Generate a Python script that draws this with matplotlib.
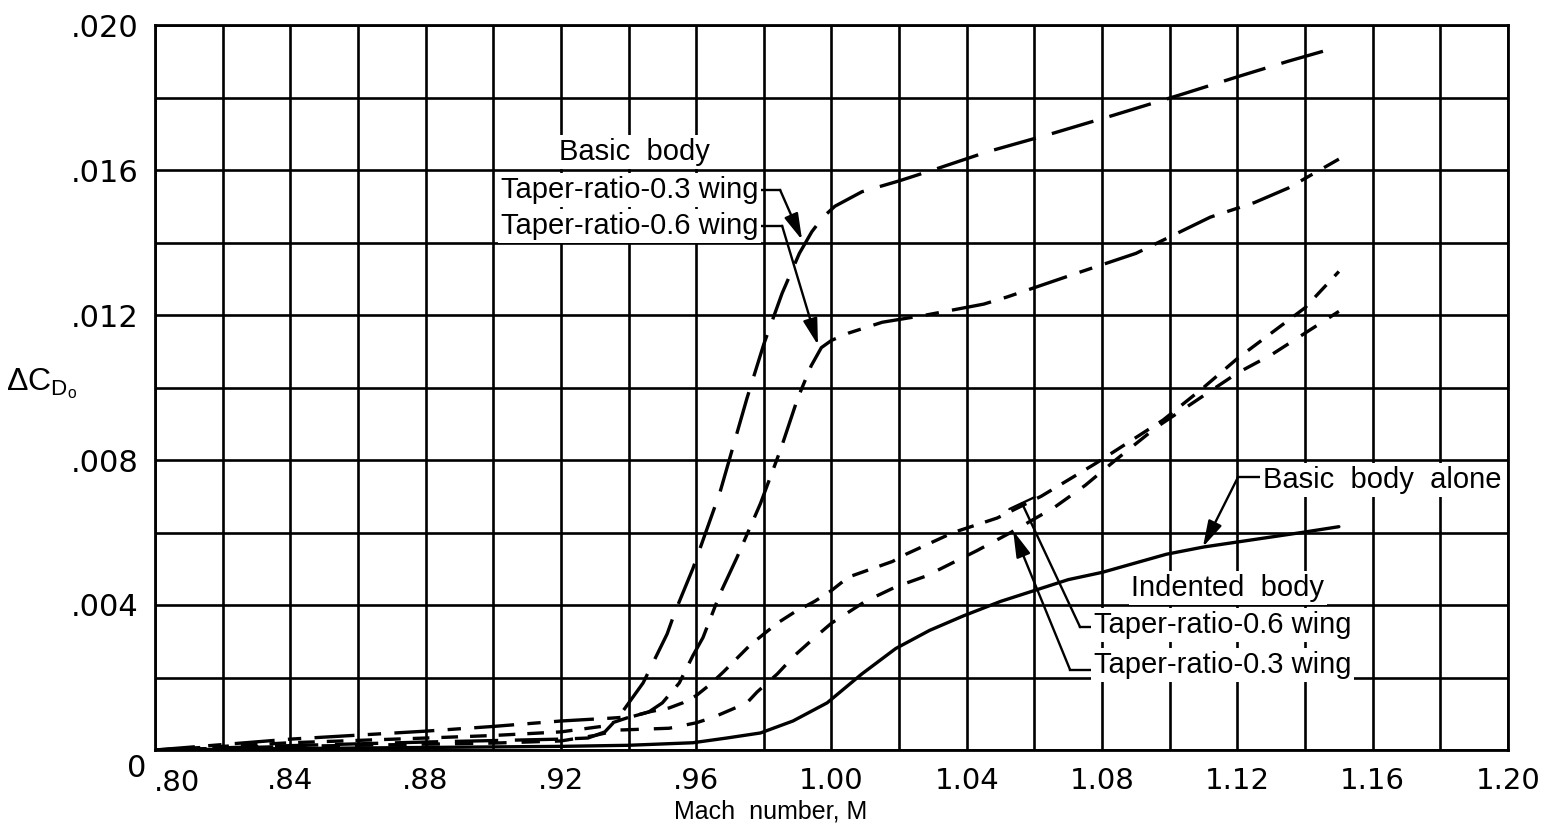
import matplotlib
matplotlib.use("Agg")
import matplotlib.pyplot as plt
import matplotlib.transforms as mtransforms
from matplotlib.patches import ArrowStyle

# ---------------- data ----------------
mach_basic_03 = [0.80, 0.84, 0.88, 0.92, 0.928, 0.933, 0.937, 0.9413, 0.9443, 0.9514, 0.9537,
                 0.959, 0.967, 0.975, 0.980, 0.9854, 0.9905, 0.9942, 0.9975, 1.001, 1.009,
                 1.02, 1.03, 1.046, 1.065, 1.083, 1.104, 1.121, 1.135, 1.15]
cd_basic_03 = [0.0, 0.00012, 0.00022, 0.0003, 0.00033, 0.0005, 0.0009, 0.00146, 0.00185, 0.0032,
               0.0038, 0.0050, 0.0071, 0.0097, 0.0112, 0.0126, 0.0137, 0.0143, 0.0147, 0.0150,
               0.0154, 0.0157, 0.0160, 0.0165, 0.0170, 0.0175, 0.0181, 0.0186, 0.0190, 0.0194]

mach_basic_06 = [0.80, 0.84, 0.88, 0.90, 0.92, 0.935, 0.941, 0.946, 0.950, 0.955, 0.959, 0.962,
                 0.967, 0.972, 0.979, 0.985, 0.990, 0.994, 0.997, 1.000, 1.005, 1.015, 1.028,
                 1.045, 1.052, 1.074, 1.090, 1.112, 1.125, 1.135, 1.15]
cd_basic_06 = [0.0, 0.0003, 0.00052, 0.00065, 0.0008, 0.00088, 0.00092, 0.00105, 0.0013, 0.00185,
               0.0026, 0.0031, 0.0043, 0.0053, 0.0068, 0.0083, 0.0097, 0.0106, 0.0111, 0.0113,
               0.0115, 0.0118, 0.0120, 0.0123, 0.0125, 0.0132, 0.0137, 0.0147, 0.0151, 0.0155,
               0.0163]

mach_indent_06 = [0.80, 0.84, 0.88, 0.90, 0.92, 0.932, 0.940, 0.946, 0.952, 0.956, 0.960, 0.964,
                  0.968, 0.976, 0.984, 0.989, 0.995, 1.000, 1.005, 1.018, 1.022, 1.036, 1.049,
                  1.062, 1.078, 1.098, 1.11, 1.12, 1.14, 1.148, 1.15]
cd_indent_06 = [0.0, 0.0002, 0.00033, 0.0004, 0.0005, 0.00065, 0.0009, 0.00105, 0.00116, 0.0013,
                0.0015, 0.0018, 0.00215, 0.0029, 0.0035, 0.0038, 0.0041, 0.0044, 0.00477, 0.0052,
                0.0054, 0.0060, 0.0064, 0.0070, 0.0079, 0.0091, 0.0100, 0.0108, 0.0122, 0.0130,
                0.0132]

mach_indent_03 = [0.80, 0.84, 0.88, 0.90, 0.92, 0.93, 0.937, 0.952, 0.960, 0.965, 0.970, 0.975,
                  0.978, 0.984, 0.989, 0.995, 1.000, 1.010, 1.019, 1.028, 1.043, 1.053, 1.066,
                  1.075, 1.084, 1.096, 1.112, 1.12, 1.13, 1.15]
cd_indent_03 = [0.0, 0.0001, 0.00016, 0.00019, 0.00025, 0.0004, 0.00055, 0.0006, 0.00075, 0.0009,
                0.0011, 0.0013, 0.0016, 0.0021, 0.0026, 0.0031, 0.0035, 0.0041, 0.0045, 0.0048,
                0.0055, 0.0060, 0.0067, 0.0073, 0.0080, 0.0089, 0.0099, 0.0104, 0.0109, 0.0121]

mach_body_alone = [0.80, 0.84, 0.88, 0.92, 0.94, 0.959, 0.969, 0.979, 0.9886, 0.9987, 1.009,
                   1.019, 1.029, 1.039, 1.050, 1.060, 1.070, 1.080, 1.099, 1.110, 1.139, 1.15]
cd_body_alone = [0.0, 0.00004, 0.00007, 0.0001, 0.00013, 0.0002, 0.00033, 0.00047, 0.0008, 0.0013,
                 0.0021, 0.0028, 0.0033, 0.0037, 0.0041, 0.0044, 0.0047, 0.0049, 0.0054, 0.0056,
                 0.0060, 0.00616]

x_ticks = [0.80, 0.84, 0.88, 0.92, 0.96, 1.00, 1.04, 1.08, 1.12, 1.16, 1.20]
x_tick_labels = [".80", ".84", ".88", ".92", ".96", "1.00", "1.04", "1.08", "1.12", "1.16", "1.20"]
y_ticks = [0.0, 0.004, 0.008, 0.012, 0.016, 0.020]
y_tick_labels = ["", ".004", ".008", ".012", ".016", ".020"]

# ---------------- figure ----------------
LABEL_FONT = ["Liberation Sans", "DejaVu Sans"]
TICK_FONT = ["DejaVu Sans"]
plt.rcParams["mathtext.fontset"] = "custom"
plt.rcParams["mathtext.rm"] = "Liberation Sans"

fig = plt.figure(figsize=(15.44, 8.26), dpi=100)
ax = fig.add_axes([155 / 1544, 1 - 750 / 826, (1508 - 155) / 1544, (750 - 25) / 826])

ax.set_xlim(0.80, 1.20)
ax.set_ylim(0.0, 0.020)

ax.set_xticks(x_ticks)
ax.set_xticklabels(x_tick_labels)
ax.set_xticks([0.80 + 0.02 * i for i in range(21)], minor=True)
ax.set_yticks(y_ticks)
ax.set_yticklabels(y_tick_labels)
ax.set_yticks([0.002 * i for i in range(11)], minor=True)

ax.grid(True, which="both", color="black", linewidth=1.9)
ax.set_axisbelow(True)
ax.tick_params(which="both", length=0)
ax.tick_params(axis="x", pad=12, labelsize=21)
ax.tick_params(axis="y", pad=12, labelsize=22)
for lab in ax.get_xticklabels() + ax.get_yticklabels():
    lab.set_family(TICK_FONT)
for sp in ax.spines.values():
    sp.set_linewidth(2.0)

# shift ".80" to the right as in the reference
first = ax.get_xticklabels()[0]
first.set_transform(first.get_transform() +
                    mtransforms.ScaledTranslation(22 / 100, -2 / 100, fig.dpi_scale_trans))
ax.text(-0.0135, -0.026, "0", transform=ax.transAxes, ha="center", va="center",
        fontsize=22, family=TICK_FONT)

LW = 2.4
ax.plot(mach_basic_03, cd_basic_03, color="black", lw=LW, dashes=(13, 5))
ax.plot(mach_basic_06, cd_basic_06, color="black", lw=LW, dashes=(12, 4, 4, 4))
ax.plot(mach_indent_06, cd_indent_06, color="black", lw=LW, dashes=(5, 3.6))
ax.plot(mach_indent_03, cd_indent_03, color="black", lw=LW, dashes=(5.5, 4.5))
ax.plot(mach_body_alone, cd_body_alone, color="black", lw=LW, solid_capstyle="round")

# axis labels
fig.text((155 + 0.455 * 1353) / 1544, 2 / 826, "Mach  number, M", fontsize=18,
         family=LABEL_FONT, ha="center", va="bottom")
ax.text(0.7666, 0.0101, r"$\Delta\mathrm{C}_{\mathrm{D_o}}$", fontsize=23, ha="center",
        va="center", family=LABEL_FONT)

# ---------------- annotations ----------------
box = dict(facecolor="white", edgecolor="none", pad=2)
FS = 21
arrow = dict(arrowstyle=ArrowStyle("-|>", head_length=0.8, head_width=0.22),
             mutation_scale=20, color="black", lw=1.7, shrinkA=0, shrinkB=0)

ax.text(0.9416, 0.0165, "Basic  body", fontsize=FS, ha="center", va="center",
        family=LABEL_FONT, bbox=box)
ax.text(0.9783, 0.01545, "Taper-ratio-0.3 wing", fontsize=FS, ha="right", va="center",
        family=LABEL_FONT, bbox=box)
ax.text(0.9783, 0.01446, "Taper-ratio-0.6 wing", fontsize=FS, ha="right", va="center",
        family=LABEL_FONT, bbox=box)
ax.plot([0.9786, 0.9848], [0.01545, 0.01545], color="black", lw=1.7)
ax.annotate("", xy=(0.9913, 0.01407), xytext=(0.9848, 0.01545), arrowprops=arrow)
ax.plot([0.9786, 0.9854], [0.01446, 0.01446], color="black", lw=1.7)
ax.annotate("", xy=(0.9960, 0.01117), xytext=(0.9854, 0.01446), arrowprops=arrow)

ax.text(1.1276, 0.00745, "Basic  body  alone", fontsize=FS, ha="left", va="center",
        family=LABEL_FONT, bbox=box)
ax.plot([1.1202, 1.1273], [0.00753, 0.00753], color="black", lw=1.7)
ax.annotate("", xy=(1.1098, 0.0056), xytext=(1.1202, 0.00753), arrowprops=arrow)

ax.text(1.1172, 0.00447, "Indented  body", fontsize=FS, ha="center", va="center",
        family=LABEL_FONT, bbox=box)
ax.text(1.0775, 0.00345, "Taper-ratio-0.6 wing", fontsize=FS, ha="left", va="center",
        family=LABEL_FONT, bbox=box)
ax.text(1.0775, 0.00235, "Taper-ratio-0.3 wing", fontsize=FS, ha="left", va="center",
        family=LABEL_FONT, bbox=box)
ax.plot([1.0735, 1.0772], [0.00339, 0.00339], color="black", lw=1.7)
ax.annotate("", xy=(1.0563, 0.00681), xytext=(1.0735, 0.00339),
            arrowprops=dict(arrowstyle=ArrowStyle("-[", widthB=0.5, lengthB=0.0),
                            mutation_scale=20, color="black", lw=1.7, shrinkA=0, shrinkB=0))
ax.plot([1.0705, 1.0772], [0.00222, 0.00222], color="black", lw=1.7)
ax.annotate("", xy=(1.0537, 0.00605), xytext=(1.0705, 0.00222), arrowprops=arrow)

fig.savefig("out.png", dpi=100, facecolor="white")
